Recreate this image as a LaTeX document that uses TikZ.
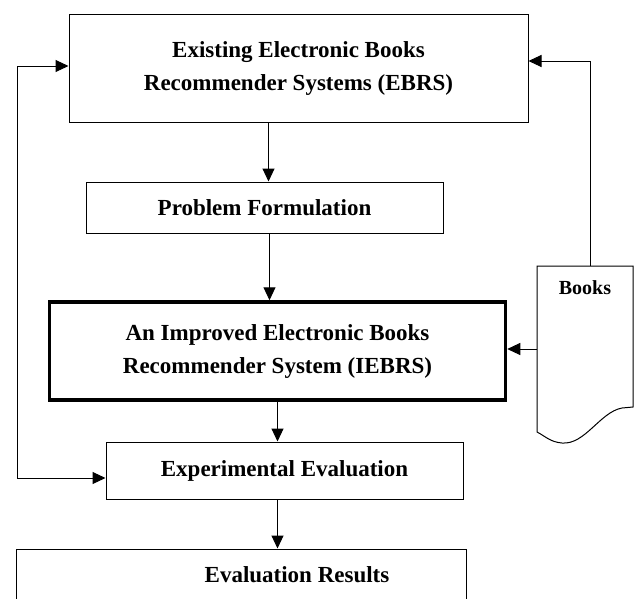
\documentclass[tikz,border=0pt]{standalone}
\usepackage{fontspec}
\setmainfont{Liberation Serif}
\usetikzlibrary{arrows.meta}

\begin{document}
\begin{tikzpicture}[x=1pt,y=-1pt,
        box/.style={draw,line width=1pt,inner sep=0pt,align=center,font=\bfseries\fontsize{23}{33}\selectfont},
        lbl/.style={inner sep=0pt,font=\bfseries\fontsize{23}{33}\selectfont},
        arr/.style={-{Triangle[length=13pt,width=12pt]},line width=1pt}]
        \useasboundingbox (0,0) rectangle (634,598);
        \node[box,minimum width=459,minimum height=108] (ebrs) at (298.5,68) {Existing Electronic Books\\Recommender Systems (EBRS)};
        \node[box,minimum width=357,minimum height=51] (pf) at (264.5,207.5) {Problem Formulation};
        \node[box,line width=3.5pt,minimum width=456,minimum height=98] (iebrs) at (277.5,351) {An Improved Electronic Books\\Recommender System (IEBRS)};
        \node[box,minimum width=357,minimum height=57] (exp) at (284.5,470.5) {Experimental Evaluation};
        \node[box,minimum width=450,minimum height=66] (res) at (241,582) {};
        \node[lbl] (reslbl) at (297,575) {Evaluation Results};
        % books document
        \node[minimum width=96,minimum height=166,inner sep=0pt] (books) at (585,349) {};
        \draw[line width=1pt] (537,266) -- (633,266) -- (633,407) -- (622,408)
              .. controls (600,412) and (585,445) .. (562,443)
              .. controls (550,442) and (545,436) .. (537,432) -- cycle;
        \node[lbl,font=\bfseries\fontsize{20}{24}\selectfont] (bookslbl) at (585,288) {Books};
        % connectors
        \draw[arr] ([xshift=4pt]pf.north |- ebrs.south) -- ([xshift=4pt]pf.north);
        \draw[arr] ([xshift=5pt]pf.south) -- ([xshift=5pt]pf.south |- iebrs.north);
        \draw[arr] (iebrs.south) -- (iebrs.south |- exp.north);
        \draw[arr] (iebrs.south |- exp.south) -- (iebrs.south |- res.north);
        \draw[arr] (books.west) -- (books.west -| iebrs.east);
        \draw[arr] ([xshift=5pt]books.north) |- ([yshift=7pt]ebrs.east);
        \coordinate (loop) at (17,478);
        \draw[arr] (loop) |- ([yshift=2pt]ebrs.west);
        \draw[arr] (loop) -- (loop -| exp.west);
\end{tikzpicture}
\end{document}
